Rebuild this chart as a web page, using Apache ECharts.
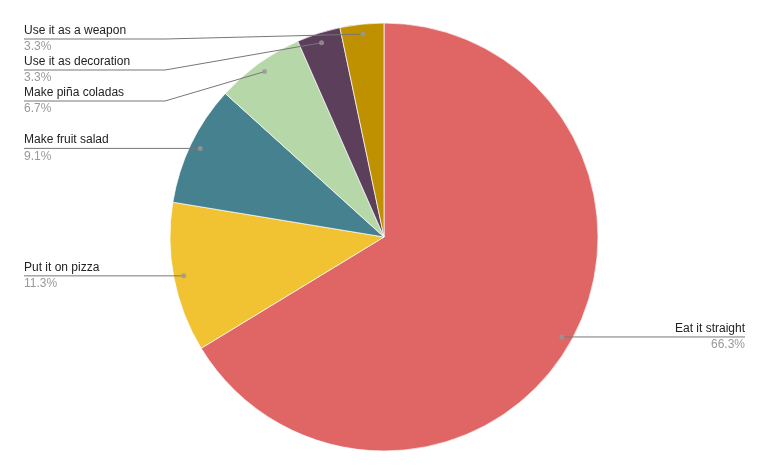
<!DOCTYPE html>
<html><head><meta charset="utf-8">
<script src="https://cdn.jsdelivr.net/npm/echarts@6/dist/echarts.min.js"></script>
<style>html,body{margin:0;padding:0;background:#fff}#c{width:769px;height:476px}</style>
</head><body><div id="c"></div>
<script>
const categories = ['Eat it straight','Put it on pizza','Make fruit salad','Make piña coladas','Use it as decoration','Use it as a weapon'];
const shares = [66.3, 11.3, 9.1, 6.7, 3.3, 3.3];
const colors = ['#e06666','#f1c232','#45818e','#b6d7a8','#5b3f5b','#bf9000'];

const CX = 384, CY = 237, R = 214, DOT_R = 204, W = 769, EDGE = 24, LABEL_H = 31, BEND = 165;
const FONT = '"Liberation Sans", Arial, sans-serif';
const total = shares.reduce((a, b) => a + b, 0);
let cum = 0;
const mids = shares.map(v => { const m = cum + v / 2; cum += v; return m; });
const dots = mids.map(m => { const a = m / total * 2 * Math.PI; return [CX + DOT_R * Math.sin(a), CY - DOT_R * Math.cos(a)]; });
const layout = dots.map(d => ({ left: d[0] < CX, y: d[1], dot: d }));
['left', 'right'].forEach(side => {
  const items = layout.filter(l => (side === 'left') === l.left).sort((a, b) => a.y - b.y);
  let prev = CY - R + 16 - LABEL_H;
  items.forEach(it => { if (it.y < prev + LABEL_H) it.y = prev + LABEL_H; prev = it.y; });
});

const pieBase = {
  type: 'pie',
  center: [CX, CY],
  radius: R,
  startAngle: 90,
  clockwise: true,
  percentPrecision: 1,
  avoidLabelOverlap: false,
  emphasis: { disabled: true },
  silent: true
};

const chart = echarts.init(document.getElementById('c'), null, { renderer: 'canvas' });
chart.setOption({
  backgroundColor: '#fff',
  animation: false,
  textStyle: { fontFamily: FONT },
  polar: { center: [CX, CY], radius: R },
  angleAxis: { type: 'value', min: 0, max: total, startAngle: 90, clockwise: true, show: false },
  radiusAxis: { type: 'value', min: 0, max: R, show: false },
  series: [
    Object.assign({}, pieBase, {
      z: 2,
      itemStyle: { borderColor: '#fff', borderWidth: 0.7 },
      data: categories.map((c, i) => ({ name: c, value: shares[i], itemStyle: { color: colors[i] } })),
      label: { show: false },
      labelLine: { show: false }
    }),
    Object.assign({}, pieBase, {
      z: 3,
      itemStyle: { color: 'rgba(0,0,0,0)', borderWidth: 0 },
      data: categories.map((c, i) => ({ name: c, value: shares[i] })),
      label: {
        show: true,
        position: 'outer',
        formatter: '{n|{b}}\n{p|{d}%}',
        rich: {
          n: { fontSize: 12, color: '#222', lineHeight: 16, fontFamily: FONT },
          p: { fontSize: 12, color: '#999', lineHeight: 17, fontFamily: FONT }
        }
      },
      labelLine: { show: true, showAbove: true, lineStyle: { color: '#777', width: 1 } },
      labelLayout: p => {
        const l = layout[p.dataIndex];
        const d = l.dot;
        const pts = l.left
          ? [[d[0], d[1]], [Math.min(d[0], BEND), l.y], [EDGE, l.y]]
          : [[d[0], d[1]], [Math.max(d[0], W - BEND), l.y], [W - EDGE, l.y]];
        return { x: l.left ? EDGE : W - EDGE, y: l.y, align: l.left ? 'left' : 'right', verticalAlign: 'middle', labelLinePoints: pts };
      }
    }),
    {
      type: 'scatter',
      coordinateSystem: 'polar',
      symbolSize: 5,
      z: 10,
      itemStyle: { color: '#999' },
      data: mids.map(m => [DOT_R, m]),
      silent: true
    }
  ]
});
</script></body></html>
